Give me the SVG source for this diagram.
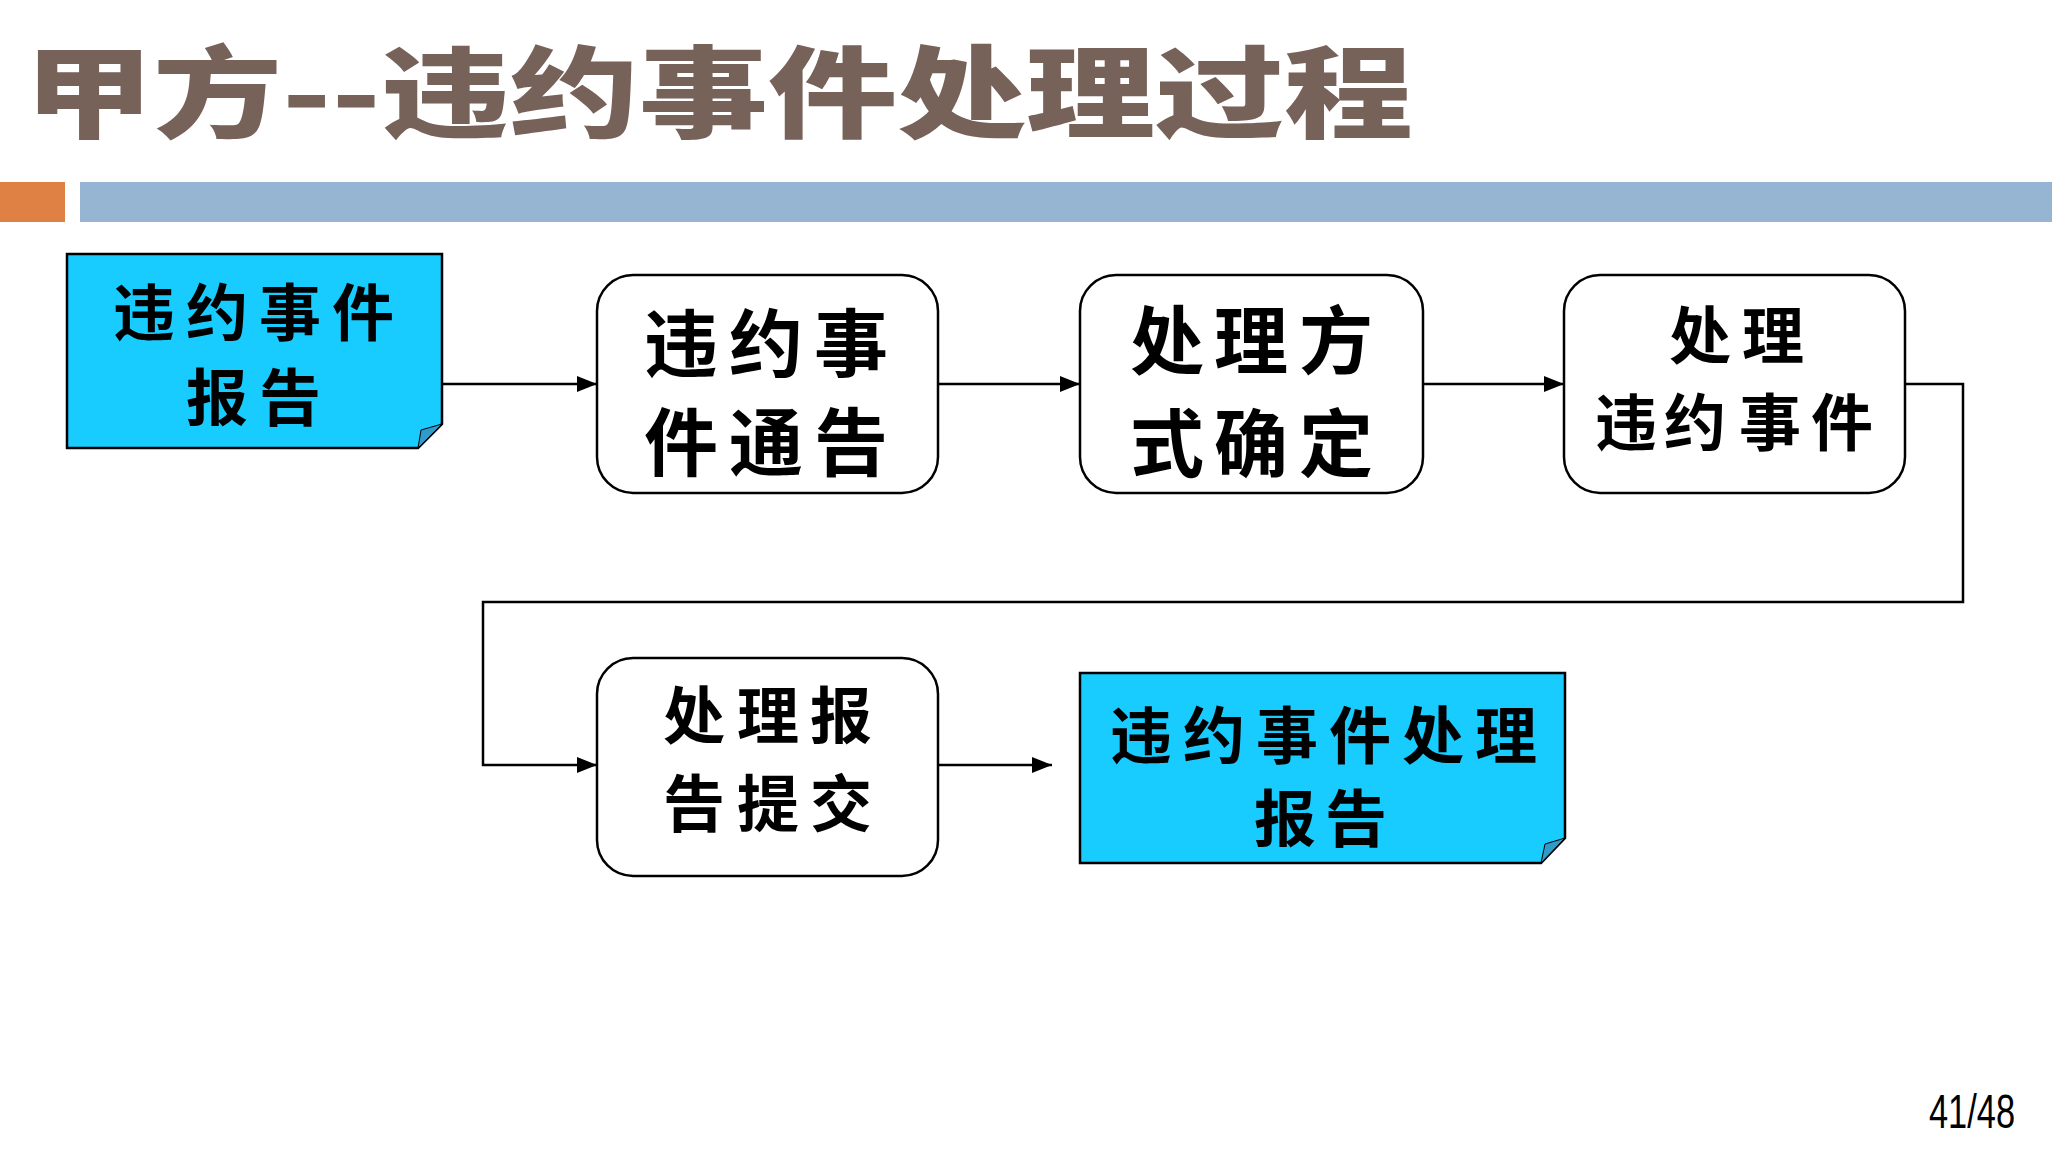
<svg xmlns="http://www.w3.org/2000/svg" width="2052" height="1154" viewBox="0 0 2052 1154">
<defs>
<style>
.title{font-family:"Noto Sans CJK SC","Noto Sans",sans-serif;font-weight:900;font-size:100px;fill:#77625A}
.lbl{font-family:"Noto Sans CJK SC","Noto Sans",sans-serif;font-weight:bold;fill:#000;text-anchor:middle}
.s62{font-size:62px}
.s76{font-size:74px}
.box{fill:#fff;stroke:#000;stroke-width:2.5}
.note{fill:#19CCFF;stroke:#000;stroke-width:2.5}
.fold{fill:#2E9BCB;stroke:#000;stroke-width:1}
.conn{fill:none;stroke:#000;stroke-width:2.5}
.pg{font-family:"Liberation Sans",Arial,sans-serif;font-size:48px;fill:#000}
</style>
<marker id="arr" markerUnits="userSpaceOnUse" markerWidth="20" markerHeight="16" refX="20" refY="8" orient="auto">
<path d="M0,0 L20,8 L0,16 Z" fill="#000"/>
</marker>
</defs>
<rect width="2052" height="1154" fill="#fff"/>
<g id="header">
<text class="title" x="24" y="130" textLength="1389" lengthAdjust="spacingAndGlyphs">甲方--违约事件处理过程</text>
<rect x="0" y="182" width="65" height="40" fill="#DF8144"/>
<rect x="80" y="182" width="1972" height="40" fill="#95B5D3"/>
</g>
<g id="connectors">
<path class="conn" d="M442,384 H597" marker-end="url(#arr)"/>
<path class="conn" d="M938,384 H1080" marker-end="url(#arr)"/>
<path class="conn" d="M1423,384 H1564" marker-end="url(#arr)"/>
<path class="conn" d="M1905,384 H1963 V602 H483 V765 H597" marker-end="url(#arr)"/>
<path class="conn" d="M938,765 H1052" marker-end="url(#arr)"/>
</g>
<g id="node1">
<path class="note" d="M67,254 H442 V424 L418,448 H67 Z"/>
<path class="fold" d="M442,424 L421,430 L418,448 Z"/>
<text class="lbl s62" x="144 217 290 363" y="336">违约事件</text>
<text class="lbl s62" x="217 290" y="421">报告</text>
</g>
<g id="node2">
<rect class="box" x="597" y="275" width="341" height="218" rx="36" ry="36"/>
<text class="lbl s76" x="681 766 851" y="371">违约事</text>
<text class="lbl s76" x="681 766 851" y="470">件通告</text>
</g>
<g id="node3">
<rect class="box" x="1080" y="275" width="343" height="218" rx="36" ry="36"/>
<text class="lbl s76" x="1167 1251 1336" y="368">处理方</text>
<text class="lbl s76" x="1167 1251 1336" y="471">式确定</text>
</g>
<g id="node4">
<rect class="box" x="1564" y="275" width="341" height="218" rx="36" ry="36"/>
<text class="lbl s62" x="1700 1773" y="359">处理</text>
<text class="lbl s62" x="1626 1695 1770 1842" y="446">违约事件</text>
</g>
<g id="node5">
<rect class="box" x="597" y="658" width="341" height="218" rx="36" ry="36"/>
<text class="lbl s62" x="694 768 841" y="739">处理报</text>
<text class="lbl s62" x="694 768 841" y="827">告提交</text>
</g>
<g id="node6">
<path class="note" d="M1080,673 H1565 V838 L1541,863 H1080 Z"/>
<path class="fold" d="M1565,838 L1545,844 L1541,863 Z"/>
<text class="lbl s62" x="1141 1214 1287 1360 1433 1506" y="759">违约事件处理</text>
<text class="lbl s62" x="1285 1356" y="842">报告</text>
</g>
<text class="pg" x="1929" y="1128" textLength="86" lengthAdjust="spacingAndGlyphs">41/48</text>
</svg>
